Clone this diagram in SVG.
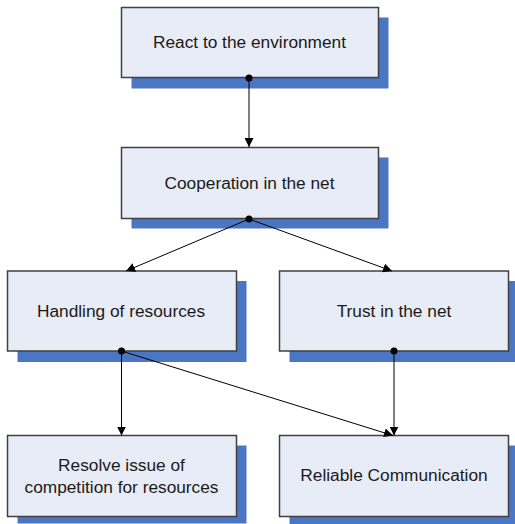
<svg xmlns="http://www.w3.org/2000/svg" width="515" height="524" viewBox="0 0 515 524">
<defs>
<style>
.shadow{fill:#4A76C4;}
.box{fill:#E8ECF6;stroke:#404040;stroke-width:1.5;}
.lbl{font-family:"Liberation Sans",Arial,sans-serif;font-size:17.3px;fill:#1a1a1a;text-anchor:middle;}
.con{stroke:#000;stroke-width:1;fill:none;marker-end:url(#arr);}
.dot{fill:#000;}
</style>
<marker id="arr" viewBox="0 0 10 10" refX="10" refY="5" markerWidth="9" markerHeight="9" markerUnits="userSpaceOnUse" orient="auto">
<path d="M0,0 L10,5 L0,10 z" fill="#000"/>
</marker>
</defs>
<rect width="515" height="524" fill="#fff"/>
<g id="node-react">
<rect class="shadow" x="131.5" y="17.5" width="257" height="71"/>
<rect class="box" x="121.5" y="7.5" width="257" height="70"/>
<text class="lbl" x="249.5" y="48">React to the environment</text>
</g>
<g id="node-cooperation">
<rect class="shadow" x="131.5" y="157.5" width="257" height="71"/>
<rect class="box" x="121.5" y="147.5" width="257" height="71"/>
<text class="lbl" x="249.5" y="188.5">Cooperation in the net</text>
</g>
<g id="node-handling">
<rect class="shadow" x="17.5" y="281" width="229" height="81"/>
<rect class="box" x="7.5" y="271" width="229" height="80"/>
<text class="lbl" x="121" y="317">Handling of resources</text>
</g>
<g id="node-trust">
<rect class="shadow" x="289.5" y="281" width="226" height="81"/>
<rect class="box" x="279.5" y="271" width="229" height="80"/>
<text class="lbl" x="394" y="317">Trust in the net</text>
</g>
<g id="node-resolve">
<rect class="shadow" x="17.5" y="445.5" width="229" height="78"/>
<rect class="box" x="7.5" y="435.5" width="229" height="81"/>
<text class="lbl" x="121.5" y="471">Resolve issue of</text>
<text class="lbl" x="121.5" y="493">competition for resources</text>
</g>
<g id="node-reliable">
<rect class="shadow" x="289.5" y="445.5" width="226" height="78.5"/>
<rect class="box" x="279.5" y="435.5" width="229" height="81"/>
<text class="lbl" x="394" y="481">Reliable Communication</text>
</g>
<g id="connectors">
<line class="con" x1="249" y1="78" x2="249" y2="147"/>
<line class="con" x1="249" y1="219" x2="126" y2="271"/>
<line class="con" x1="249" y1="219" x2="392" y2="271"/>
<line class="con" x1="121.5" y1="351" x2="121.5" y2="435.5"/>
<line class="con" x1="121.5" y1="351" x2="393" y2="435.5"/>
<line class="con" x1="394" y1="351" x2="394" y2="435.5"/>
<circle class="dot" cx="249" cy="78" r="3.5"/>
<circle class="dot" cx="249" cy="219" r="3.5"/>
<circle class="dot" cx="121.5" cy="351" r="3.5"/>
<circle class="dot" cx="394" cy="351" r="3.5"/>
</g>
</svg>
